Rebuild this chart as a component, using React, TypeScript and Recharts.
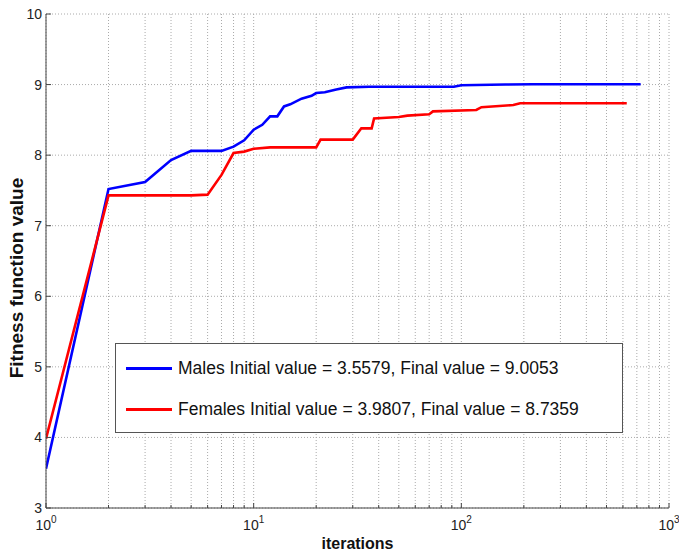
import { CartesianGrid, Label, Legend, Line, LineChart, XAxis, YAxis } from "recharts";

const malesIter = [1, 2, 3, 4, 5, 6, 7, 8, 9, 10, 11, 12, 13, 14, 15, 17, 19, 20, 22, 25, 28, 36, 92, 100, 163, 220, 730];
const malesFitness = [
  3.5579, 7.52, 7.62, 7.93, 8.06, 8.06, 8.06, 8.12, 8.21, 8.36, 8.43, 8.55, 8.55, 8.69, 8.72, 8.8, 8.84, 8.88,
  8.89, 8.93, 8.96, 8.97, 8.97, 8.99, 9.0, 9.005, 9.0053,
];

const femalesIter = [1, 2, 3, 4, 5, 6, 7, 8, 9, 10, 12, 20, 21, 30, 33, 37, 38, 50, 55, 70, 73, 118, 125, 178, 192, 626];
const femalesFitness = [
  3.9807, 7.43, 7.43, 7.43, 7.43, 7.44, 7.72, 8.03, 8.05, 8.09, 8.11, 8.11, 8.22, 8.22, 8.38, 8.38, 8.52, 8.54,
  8.56, 8.58, 8.62, 8.64, 8.68, 8.71, 8.7359, 8.7359,
];

const xTicks = [
  1, 2, 3, 4, 5, 6, 7, 8, 9, 10, 20, 30, 40, 50, 60, 70, 80, 90, 100, 200, 300, 400, 500, 600, 700, 800, 900, 1000,
];
const yTicks = [3, 4, 5, 6, 7, 8, 9, 10];

const FONT = '"Liberation Sans", Arial, sans-serif';
const AXIS = "#444";

const toPoints = (xs: number[], ys: number[]) => xs.map((x, i) => ({ iter: x, value: ys[i] }));
const malesData = toPoints(malesIter, malesFitness);
const femalesData = toPoints(femalesIter, femalesFitness);

const isDecade = (v: number) => {
  const e = Math.log10(v);
  return Math.abs(e - Math.round(e)) < 1e-9;
};

const BottomTick = ({ x, y, payload }: any) => {
  const major = isDecade(payload.value);
  return (
    <g>
      <line x1={x} x2={x} y1={y} y2={y - (major ? 5 : 3)} stroke={AXIS} />
      {major && (
        <text x={x} y={y + 22} textAnchor="middle" fontSize={14} fill="#222" fontFamily={FONT}>
          10
          <tspan dy={-7} fontSize={10}>
            {Math.round(Math.log10(payload.value))}
          </tspan>
        </text>
      )}
    </g>
  );
};

const TopTick = ({ x, y, payload }: any) => {
  const major = isDecade(payload.value);
  return <line x1={x} x2={x} y1={y} y2={y + (major ? 5 : 3)} stroke={AXIS} />;
};

const LeftTick = ({ x, y, payload }: any) => (
  <g>
    <line x1={x + 4} x2={x + 9} y1={y} y2={y} stroke={AXIS} />
    <text x={x} y={y} dy="0.36em" textAnchor="end" fontSize={14} fill="#222" fontFamily={FONT}>
      {payload.value}
    </text>
  </g>
);

const RightTick = ({ x, y }: any) => <line x1={x - 5} x2={x} y1={y} y2={y} stroke={AXIS} />;

// y label sits a little below the plot's middle, as in the original figure
const YTitle = ({ viewBox }: any) => {
  const cx = viewBox.x + 23;
  const cy = viewBox.y + viewBox.height / 2 + 17;
  return (
    <text
      x={cx}
      y={cy}
      transform={`rotate(-90, ${cx}, ${cy})`}
      textAnchor="middle"
      fontFamily={FONT}
      fontWeight="bold"
      fontSize={19}
      fill="#111"
    >
      Fitness function value
    </text>
  );
};

const legendRows = [
  {
    color: "#0000ff",
    text: `Males Initial value = ${malesFitness[0].toFixed(4)}, Final value = ${malesFitness[malesFitness.length - 1].toFixed(4)}`,
  },
  {
    color: "#ff0000",
    text: `Females Initial value = ${femalesFitness[0].toFixed(4)}, Final value = ${femalesFitness[femalesFitness.length - 1].toFixed(4)}`,
  },
];

const LegendBox = () => (
  <div
    style={{
      width: 508,
      height: 90,
      boxSizing: "border-box",
      border: "1px solid #555",
      background: "#fff",
      fontFamily: FONT,
      fontSize: 17.5,
      color: "#111",
      paddingTop: 13,
    }}
  >
    {legendRows.map((r, i) => (
      <div key={i} style={{ display: "flex", alignItems: "center", height: 22, marginBottom: i === 0 ? 19 : 0 }}>
        <div style={{ marginLeft: 10, width: 46, height: 3, background: r.color }} />
        <span style={{ marginLeft: 6 }}>{r.text}</span>
      </div>
    ))}
  </div>
);

export default function App() {
  return (
    <div style={{ position: "absolute", left: 0, top: 0, background: "#fff" }}>
      <LineChart width={679} height={553} margin={{ top: 14, right: 10, bottom: 0, left: 0 }}>
        <CartesianGrid stroke="#aaa" strokeDasharray="1 2" />
        <XAxis
          dataKey="iter"
          type="number"
          scale="log"
          domain={[1, 1000]}
          allowDataOverflow
          ticks={xTicks}
          interval={0}
          height={45}
          tickSize={0}
          tickMargin={0}
          tickLine={false}
          axisLine={{ stroke: AXIS }}
          tick={<BottomTick />}
        >
          <Label
            value="iterations"
            position="insideBottom"
            offset={4}
            style={{ fontFamily: FONT, fontWeight: "bold", fontSize: 16, fill: "#111" }}
          />
        </XAxis>
        <XAxis
          xAxisId="top"
          orientation="top"
          dataKey="iter"
          type="number"
          scale="log"
          domain={[1, 1000]}
          allowDataOverflow
          ticks={xTicks}
          interval={0}
          height={0}
          tickSize={0}
          tickMargin={0}
          tickLine={false}
          axisLine={{ stroke: AXIS }}
          tick={<TopTick />}
        />
        <YAxis
          type="number"
          domain={[3, 10]}
          ticks={yTicks}
          interval={0}
          width={46}
          tickSize={0}
          tickMargin={4}
          tickLine={false}
          axisLine={{ stroke: AXIS }}
          tick={<LeftTick />}
        >
          <Label content={<YTitle />} />
        </YAxis>
        <YAxis
          yAxisId="right"
          orientation="right"
          type="number"
          domain={[3, 10]}
          ticks={yTicks}
          interval={0}
          width={0}
          tickSize={0}
          tickMargin={0}
          tickLine={false}
          axisLine={{ stroke: AXIS }}
          tick={<RightTick />}
        />
        <Legend
          layout="vertical"
          align="center"
          verticalAlign="middle"
          wrapperStyle={{ left: 115, top: 343, width: 508, height: 90 }}
          content={<LegendBox />}
        />
        <Line
          data={malesData}
          dataKey="value"
          name="Males"
          stroke="#0000ff"
          strokeWidth={2.6}
          dot={false}
          isAnimationActive={false}
        />
        <Line
          data={femalesData}
          dataKey="value"
          name="Females"
          stroke="#ff0000"
          strokeWidth={2.6}
          dot={false}
          isAnimationActive={false}
        />
      </LineChart>
    </div>
  );
}
